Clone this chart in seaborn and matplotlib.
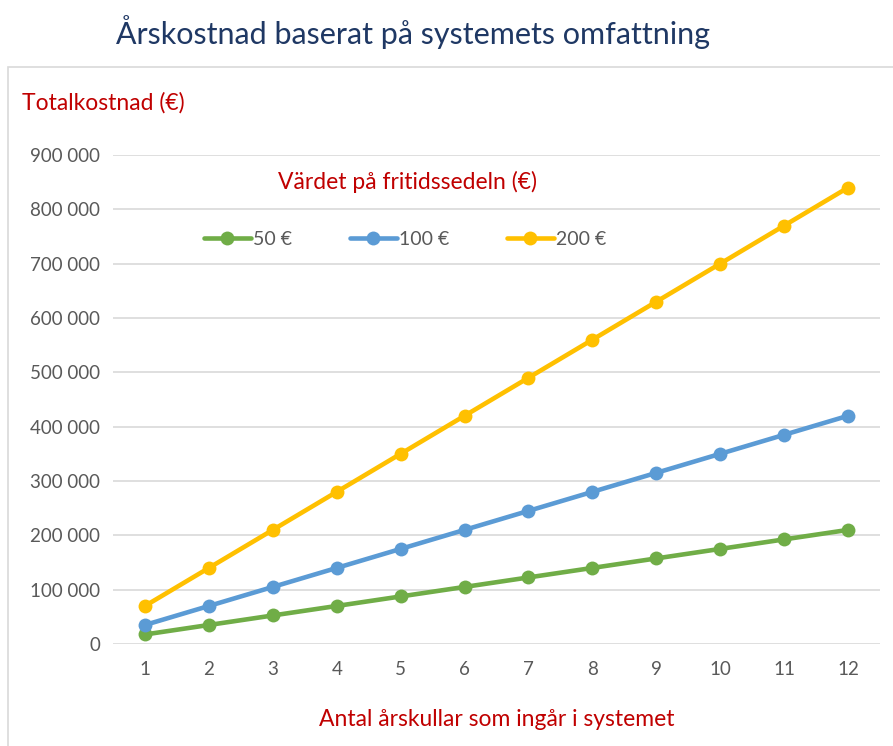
import pandas as pd
import matplotlib
matplotlib.use('Agg')
import matplotlib.pyplot as plt
import seaborn as sns
from matplotlib.lines import Line2D
from matplotlib.patches import Rectangle
from matplotlib.ticker import FuncFormatter

# data
years = [1, 2, 3, 4, 5, 6, 7, 8, 9, 10, 11, 12]
cost_50 = [17500, 35000, 52500, 70000, 87500, 105000, 122500, 140000, 157500, 175000, 192500, 210000]
cost_100 = [35000, 70000, 105000, 140000, 175000, 210000, 245000, 280000, 315000, 350000, 385000, 420000]
cost_200 = [70000, 140000, 210000, 280000, 350000, 420000, 490000, 560000, 630000, 700000, 770000, 840000]
labels = ['50 €', '100 €', '200 €']
colors = ['#70AD47', '#5B9BD5', '#FFC000']

sns.set_theme(style='white')
plt.rcParams['font.family'] = ['Lato', 'DejaVu Sans']

df = pd.DataFrame({'år': years * 3,
                   'kostnad': cost_50 + cost_100 + cost_200,
                   'serie': [labels[0]] * 12 + [labels[1]] * 12 + [labels[2]] * 12})

fig = plt.figure(figsize=(8.93, 7.46), dpi=100)
ax = fig.add_axes([113 / 893, 1 - 644 / 746, (880 - 113) / 893, (644 - 155) / 746])

# chart area border
fig.patches.append(Rectangle((8 / 893, -0.01), 1.1, 1 - 67 / 746 + 0.01, transform=fig.transFigure,
                             fill=False, edgecolor='#D9D9D9', linewidth=1.2))

sns.lineplot(data=df, x='år', y='kostnad', hue='serie', palette=colors, marker='o',
             markersize=10, markeredgewidth=0, linewidth=3.3, ax=ax, legend=False)

ax.set_xlim(0.5, 12.5)
ax.set_ylim(0, 900000)
ax.set_xticks(years)
ax.set_yticks(range(0, 900001, 100000))
ax.yaxis.set_major_formatter(FuncFormatter(lambda v, p: f'{int(v):,}'.replace(',', ' ')))
ax.grid(axis='y', color='#D9D9D9', linewidth=1.2)
ax.set_axisbelow(True)
for s in ax.spines.values():
    s.set_visible(False)
ax.tick_params(axis='both', colors='#595959', labelsize=13.5, length=0)
ax.tick_params(axis='x', pad=12)
ax.tick_params(axis='y', pad=9)
ax.set_xlabel('')
ax.set_ylabel('')

fig.text(413 / 893, 1 - 32 / 746, 'Årskostnad baserat på systemets omfattning',
         ha='center', va='center', fontsize=22, color='#1F3864')
fig.text(22 / 893, 1 - 103 / 746, 'Totalkostnad (€)', ha='left', va='center',
         fontsize=16.5, color='#C00000')
fig.text(408 / 893, 1 - 182 / 746, 'Värdet på fritidssedeln (€)', ha='center', va='center',
         fontsize=16.5, color='#C00000')
fig.text(497 / 893, 1 - 720 / 746, 'Antal årskullar som ingår i systemet', ha='center', va='center',
         fontsize=16.5, color='#C00000')

handles = [Line2D([0], [0], color=c, linewidth=3.3, marker='o', markersize=10, markeredgewidth=0)
           for c in colors]
leg = fig.legend(handles, labels, loc='center', bbox_to_anchor=(405 / 893, 1 - 239 / 746), ncol=3,
                 frameon=False, fontsize=14, handlelength=2.4, handletextpad=0.1, columnspacing=3.0)
for t in leg.get_texts():
    t.set_color('#595959')

fig.savefig('out.png', dpi=100)
